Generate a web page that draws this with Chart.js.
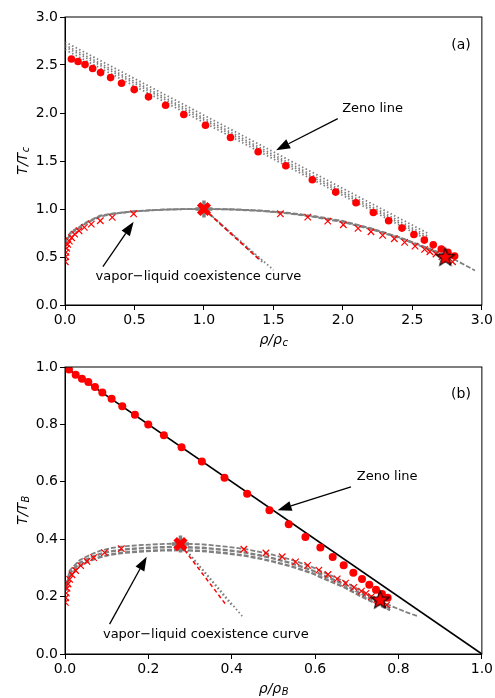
<!DOCTYPE html>
<html>
<head>
<meta charset="utf-8">
<script src="https://cdn.jsdelivr.net/npm/chart.js@4.4.0/dist/chart.umd.min.js"></script>
<style>
  body { margin: 0; background: #fff; }
  #wrap { position: relative; width: 495px; height: 698px; }
  canvas { position: absolute; left: 0; }
</style>
</head>
<body>
<div id="wrap">
  <canvas id="chartA" width="495" height="349" style="top:0;width:495px;height:349px"></canvas>
  <canvas id="chartB" width="495" height="348" style="top:350px;width:495px;height:348px"></canvas>
</div>
<script>
// ---- panel (a): T/Tc vs rho/rho_c
const xTicksA = [0, 0.5, 1.0, 1.5, 2.0, 2.5, 3.0];
const yTicksA = [0, 0.5, 1.0, 1.5, 2.0, 2.5, 3.0];

const zenoSimXA = [0.046,0.094,0.144,0.199,0.256,0.328,0.407,0.498,0.601,0.724,0.855,1.011,1.191,1.390,1.589,1.780,1.948,2.094,2.219,2.329,2.425,2.511,2.586,2.650,2.708,2.756,2.804];
const zenoSimYA = [2.563,2.536,2.504,2.463,2.421,2.369,2.310,2.244,2.168,2.081,1.984,1.873,1.745,1.596,1.450,1.304,1.176,1.065,0.964,0.878,0.801,0.735,0.676,0.628,0.583,0.548,0.510];
const vaporXA = [0.494,0.340,0.254,0.189,0.139,0.101,0.069,0.048,0.031,0.019,0.012,0.007,0.005,0.002];
const vaporYA = [0.950,0.912,0.878,0.843,0.808,0.773,0.739,0.701,0.666,0.631,0.590,0.548,0.503,0.451];
const liquidXA = [1.550,1.747,1.891,2.003,2.109,2.202,2.286,2.370,2.444,2.519,2.588,2.626,2.670,2.713,2.753,2.789];
const liquidYA = [0.950,0.916,0.874,0.836,0.798,0.763,0.725,0.690,0.652,0.614,0.579,0.555,0.531,0.503,0.475,0.451];
const critXA = [1.0], critYA = [1.0];
const starXA = [2.737], starYA = [0.503];

const zenoFitXA = [0, 2.62];
const zenoFitYA1 = [2.74, 0.74];
const zenoFitYA2 = [2.71, 0.71];
const zenoFitYA3 = [2.69, 0.69];
const zenoFitYA4 = [2.66, 0.67];

const coexXA1 = [0.005,0.02,0.05,0.1,0.15,0.25,0.35,0.5,0.7,0.85,1.0,1.2,1.4,1.6,1.8,2.0,2.2,2.4,2.6,2.75,2.95];
const coexYA1 = [0.66,0.72,0.77,0.81,0.86,0.93,0.955,0.978,0.994,0.999,1.0,0.997,0.985,0.962,0.925,0.875,0.80,0.71,0.60,0.515,0.36];
const coexXA2 = [0.005,0.02,0.05,0.1,0.15,0.25,0.35,0.5,0.7,0.85,1.0,1.2,1.4,1.6,1.8,2.0,2.2,2.4,2.6,2.75];
const coexYA2 = [0.62,0.69,0.75,0.80,0.85,0.92,0.95,0.975,0.992,0.998,1.0,0.995,0.98,0.955,0.915,0.862,0.79,0.70,0.59,0.50];
const coexYA3 = [0.64,0.70,0.76,0.81,0.855,0.925,0.952,0.976,0.993,0.998,1.0,0.996,0.982,0.958,0.92,0.868,0.795,0.705,0.595,0.508];

const diamRedXA = [1.0, 1.4], diamRedYA = [1.0, 0.47];
const diamGrayXA1 = [1.0, 1.5], diamGrayYA1 = [1.0, 0.365];
const diamGrayXA2 = [1.0, 1.42], diamGrayYA2 = [1.0, 0.45];

// ---- panel (b): T/TB vs rho/rho_B
const xTicksB = [0, 0.2, 0.4, 0.6, 0.8, 1.0];
const yTicksB = [0, 0.2, 0.4, 0.6, 0.8, 1.0];

const zenoSimXB = [0.0096,0.0256,0.0407,0.0559,0.0719,0.0895,0.1118,0.1374,0.1677,0.1997,0.2372,0.2796,0.3283,0.3826,0.4369,0.4904,0.5367,0.5767,0.6126,0.6422,0.6685,0.6917,0.7125,0.7300,0.7460,0.7604,0.7740];
const zenoSimYB = [0.991,0.973,0.959,0.948,0.930,0.911,0.889,0.863,0.834,0.800,0.762,0.720,0.671,0.614,0.558,0.501,0.452,0.408,0.371,0.338,0.309,0.283,0.261,0.241,0.224,0.209,0.196];
const vaporXB = [0.135,0.095,0.0687,0.0527,0.0375,0.0256,0.0168,0.0112,0.0072,0.0048,0.0032,0.0016,0.0008];
const vaporYB = [0.367,0.353,0.336,0.323,0.308,0.291,0.276,0.260,0.244,0.229,0.212,0.196,0.180];
const liquidXB = [0.429,0.482,0.521,0.553,0.582,0.609,0.631,0.653,0.673,0.693,0.711,0.722,0.735,0.748,0.760,0.772];
const liquidYB = [0.365,0.352,0.339,0.321,0.309,0.292,0.277,0.262,0.247,0.232,0.219,0.211,0.200,0.190,0.180,0.171];
const critXB = [0.277], critYB = [0.383];
const starXB = [0.756], starYB = [0.190];

const zenoLineXB = [0, 1], zenoLineYB = [1, 0];

const coexXB1 = [0.003,0.011,0.02,0.035,0.05,0.067,0.085,0.107,0.14,0.187,0.23,0.276,0.33,0.387,0.43,0.466,0.5,0.546,0.59,0.626,0.67,0.706,0.75,0.786,0.82,0.846];
const coexYB1 = [0.24,0.29,0.305,0.327,0.338,0.35,0.36,0.368,0.375,0.38,0.383,0.385,0.382,0.374,0.366,0.356,0.345,0.327,0.305,0.281,0.253,0.223,0.19,0.165,0.145,0.132];
const coexXB2 = [0.003,0.011,0.02,0.035,0.05,0.067,0.085,0.107,0.14,0.187,0.23,0.276,0.33,0.387,0.43,0.466,0.5,0.546,0.59,0.626,0.67,0.706,0.75,0.78];
const coexYB2 = [0.23,0.28,0.295,0.317,0.328,0.339,0.349,0.357,0.364,0.369,0.372,0.373,0.37,0.362,0.354,0.344,0.333,0.315,0.293,0.27,0.243,0.213,0.181,0.16];
const coexYB3 = [0.22,0.27,0.285,0.306,0.318,0.329,0.338,0.346,0.353,0.358,0.361,0.362,0.359,0.351,0.343,0.333,0.322,0.304,0.283,0.26,0.233,0.204,0.173,0.153];

const diamRedXB = [0.287, 0.385], diamRedYB = [0.362, 0.174];
const diamGrayXB1 = [0.28, 0.425], diamGrayYB1 = [0.38, 0.132];
const diamGrayXB2 = [0.28, 0.40], diamGrayYB2 = [0.38, 0.17];

// ---- helpers
const FONT = "'DejaVu Sans', sans-serif";
const GRAY = '#808080';
const RED = '#ff0000';

function pts(xs, ys) { return xs.map((x, i) => ({ x: x, y: ys[i] })); }

function line(xs, ys, color, width, dash) {
  return { data: pts(xs, ys), showLine: true, borderColor: color, borderWidth: width,
           borderDash: dash || [], pointRadius: 0, fill: false };
}
function marks(xs, ys, style, radius, color, bw) {
  return { data: pts(xs, ys), showLine: false, pointStyle: style, pointRadius: radius,
           backgroundColor: color, borderColor: color, pointBorderWidth: bw || 0 };
}

// red star with black edge
const starImg = document.createElement('canvas');
starImg.width = 22; starImg.height = 22;
(function () {
  const c = starImg.getContext('2d');
  c.beginPath();
  for (let i = 0; i < 10; i++) {
    const r = i % 2 ? 4 : 9.5;
    const a = -Math.PI / 2 + i * Math.PI / 5;
    c.lineTo(11 + r * Math.cos(a), 11.8 + r * Math.sin(a));
  }
  c.closePath();
  c.fillStyle = RED; c.fill();
  c.strokeStyle = '#000'; c.lineWidth = 1.1; c.stroke();
})();

function arrow(ctx, x1, y1, x2, y2) {
  const ang = Math.atan2(y2 - y1, x2 - x1);
  const L = 14, W = 5;
  const bx = x2 - L * Math.cos(ang), by = y2 - L * Math.sin(ang);
  ctx.beginPath(); ctx.moveTo(x1, y1); ctx.lineTo(bx, by);
  ctx.lineWidth = 1.3; ctx.stroke();
  ctx.beginPath(); ctx.moveTo(x2, y2);
  ctx.lineTo(bx - W * Math.sin(ang), by + W * Math.cos(ang));
  ctx.lineTo(bx + W * Math.sin(ang), by - W * Math.cos(ang));
  ctx.closePath(); ctx.fill();
}

function subText(ctx, main, sub, cx, cy, rotate) {
  ctx.save();
  ctx.translate(cx, cy);
  if (rotate) ctx.rotate(-Math.PI / 2);
  ctx.font = 'italic 14px ' + FONT;
  const w1 = ctx.measureText(main).width;
  ctx.font = 'italic 10px ' + FONT;
  const w2 = ctx.measureText(sub).width;
  const x0 = -(w1 + w2) / 2;
  ctx.fillStyle = '#000';
  ctx.textBaseline = 'middle';
  ctx.font = 'italic 14px ' + FONT;
  ctx.fillText(main, x0, 0);
  ctx.font = 'italic 10px ' + FONT;
  ctx.fillText(sub, x0 + w1 + 0.5, 3.5);
  ctx.restore();
}

const decor = {
  id: 'decor',
  afterDatasetsDraw(chart, args, o) {
    const { ctx, chartArea: a } = chart;
    const sx = chart.scales.x, sy = chart.scales.y;
    ctx.save();
    ctx.strokeStyle = '#000'; ctx.fillStyle = '#000';
    ctx.lineWidth = 1;
    ctx.strokeRect(a.left, a.top, a.right - a.left, a.bottom - a.top);
    o.arrows.forEach(r => arrow(ctx, sx.getPixelForValue(r[0]), sy.getPixelForValue(r[1]),
                                     sx.getPixelForValue(r[2]), sy.getPixelForValue(r[3])));
    ctx.textBaseline = 'middle';
    o.notes.forEach(n => {
      ctx.font = (n.size || 13) + 'px ' + FONT;
      ctx.textAlign = n.align || 'left';
      ctx.fillText(n.text, sx.getPixelForValue(n.x), sy.getPixelForValue(n.y));
    });
    ctx.restore();
  },
  afterDraw(chart, args, o) {
    const { ctx, chartArea: a } = chart;
    subText(ctx, o.xTitle[0], o.xTitle[1], (a.left + a.right) / 2, a.bottom + 35, false);
    subText(ctx, o.yTitle[0], o.yTitle[1], 23, (a.top + a.bottom) / 2, true);
  }
};

function axis(min, max, ticks, isX) {
  return {
    type: 'linear', min: min, max: max,
    afterBuildTicks: s => { s.ticks = ticks.map(v => ({ value: v })); },
    afterFit: s => { if (isX) s.height = 44; else s.width = 65; },
    grid: { display: true, drawOnChartArea: false, drawTicks: true, tickLength: 5, color: '#000' },
    border: { display: true, color: '#000', width: 1 },
    ticks: { color: '#000', font: { family: FONT, size: 14 }, padding: 2, autoSkip: false,
             maxRotation: 0, callback: v => v.toFixed(1) }
  };
}

function makeChart(id, datasets, xr, yr, xt, yt, decorOpts) {
  return new Chart(document.getElementById(id), {
    type: 'scatter',
    data: { datasets: datasets },
    options: {
      responsive: false, animation: false, events: [],
      layout: { padding: { left: 0, right: 12, top: 17, bottom: 0 } },
      scales: { x: axis(xr[0], xr[1], xt, true), y: axis(yr[0], yr[1], yt, false) },
      plugins: { legend: { display: false }, tooltip: { enabled: false }, decor: decorOpts }
    },
    plugins: [decor]
  });
}

// first dataset is drawn on top
makeChart('chartA', [
  marks(starXA, starYA, starImg, 8, RED),
  marks(critXA, critYA, 'crossRot', 7.5, RED, 5),
  marks(critXA, critYA, 'cross', 8.5, GRAY, 3.5),
  marks(zenoSimXA, zenoSimYA, 'circle', 3.8, RED),
  marks(vaporXA, vaporYA, 'crossRot', 4.6, RED, 1.2),
  marks(liquidXA, liquidYA, 'crossRot', 4.6, RED, 1.2),
  line(diamRedXA, diamRedYA, RED, 1.5, [4, 3]),
  line(diamGrayXA1, diamGrayYA1, GRAY, 1.8, [1.5, 2.5]),
  line(diamGrayXA2, diamGrayYA2, GRAY, 2, [5, 2]),
  line(coexXA1, coexYA1, GRAY, 1.8, [5, 2]),
  line(coexXA2, coexYA2, GRAY, 1.8, [5, 2]),
  line(coexXA2, coexYA3, GRAY, 1.8, [1.5, 2]),
  line(zenoFitXA, zenoFitYA1, GRAY, 1.8, [1.5, 2.5]),
  line(zenoFitXA, zenoFitYA2, GRAY, 1.8, [1.5, 2.5]),
  line(zenoFitXA, zenoFitYA3, GRAY, 1.8, [1.5, 2.5]),
  line(zenoFitXA, zenoFitYA4, GRAY, 1.8, [1.5, 2.5])
], [0, 3], [0, 3], xTicksA, yTicksA, {
  xTitle: ['\u03c1/\u03c1', 'c'], yTitle: ['T/T', 'c'],
  arrows: [[1.963, 1.942, 1.519, 1.613], [0.273, 0.399, 0.494, 0.867]],
  notes: [
    { text: 'Zeno line', x: 1.995, y: 2.05 },
    { text: 'vapor\u2212liquid coexistence curve', x: 0.22, y: 0.295 },
    { text: '(a)', x: 2.85, y: 2.705, align: 'center', size: 14 }
  ]
});

makeChart('chartB', [
  marks(starXB, starYB, starImg, 8, RED),
  marks(critXB, critYB, 'crossRot', 7.5, RED, 5),
  marks(critXB, critYB, 'cross', 8.5, GRAY, 3.5),
  marks(zenoSimXB, zenoSimYB, 'circle', 4, RED),
  marks(vaporXB, vaporYB, 'crossRot', 4.6, RED, 1.2),
  marks(liquidXB, liquidYB, 'crossRot', 4.6, RED, 1.2),
  line(zenoLineXB, zenoLineYB, '#000', 1.6),
  line(diamRedXB, diamRedYB, RED, 1.5, [4, 3]),
  line(diamGrayXB1, diamGrayYB1, GRAY, 1.8, [1.5, 2.5]),
  line(diamGrayXB2, diamGrayYB2, GRAY, 1.8, [1.5, 2.5]),
  line(coexXB1, coexYB1, GRAY, 1.8, [5, 2]),
  line(coexXB2, coexYB2, GRAY, 2.4, [5, 2]),
  line(coexXB2, coexYB3, GRAY, 2.4, [5, 2])
], [0, 1], [0, 1], xTicksB, yTicksB, {
  xTitle: ['\u03c1/\u03c1', 'B'], yTitle: ['T/T', 'B'],
  arrows: [[0.686, 0.582, 0.510, 0.501], [0.107, 0.104, 0.196, 0.339]],
  notes: [
    { text: 'Zeno line', x: 0.700, y: 0.617 },
    { text: 'vapor\u2212liquid coexistence curve', x: 0.091, y: 0.066 },
    { text: '(b)', x: 0.95, y: 0.904, align: 'center', size: 14 }
  ]
});
</script>
</body>
</html>
